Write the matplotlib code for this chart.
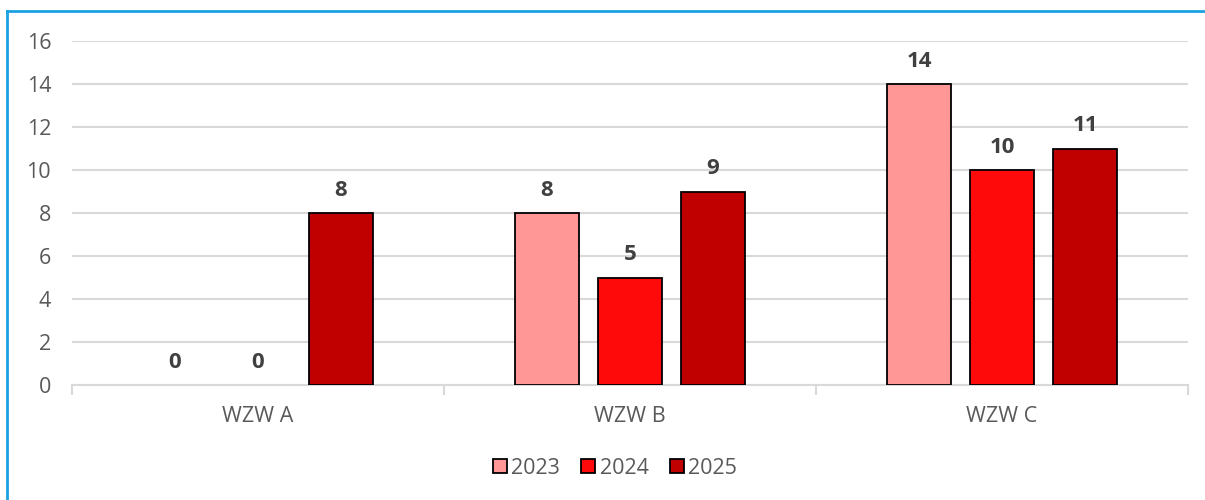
import matplotlib
matplotlib.use("Agg")
import matplotlib.pyplot as plt
from matplotlib.lines import Line2D
from matplotlib.patches import Patch
import numpy as np

plt.rcParams['font.family'] = ['Open Sans', 'DejaVu Sans']

categories = ["WZW A", "WZW B", "WZW C"]
series_names = ["2023", "2024", "2025"]
values_2023 = [0, 8, 14]
values_2024 = [0, 5, 10]
values_2025 = [8, 9, 11]
colors = ["#FF9797", "#FF0A0A", "#C00000"]
yticks = [0, 2, 4, 6, 8, 10, 12, 14, 16]

fig = plt.figure(figsize=(12.05, 5.0), dpi=100)
ax = fig.add_axes([72/1205, 1-385/500, (1188-72)/1205, (385-41)/500])

x = np.arange(len(categories))
offsets = [-0.223, 0.0, 0.223]
width = 0.172
for vals, off, col, name in zip([values_2023, values_2024, values_2025], offsets, colors, series_names):
    lws = [1.3 if v > 0 else 0 for v in vals]
    bars = ax.bar(x + off, vals, width=width, color=col, edgecolor="black", linewidth=lws, zorder=3, label=name)
    for b, v in zip(bars, vals):
        ax.annotate(str(v), (b.get_x() + b.get_width()/2, v), xytext=(0, 9), textcoords="offset points",
                    ha="center", va="bottom", fontsize=16, fontweight="bold", color="#404040")

ax.set_xlim(-0.5, 2.5)
ax.set_ylim(0, 16)
ax.set_yticks(yticks)
ax.set_yticklabels([str(t) for t in yticks])
ax.yaxis.grid(True, color="#D9D9D9", linewidth=1.5, zorder=0)
ax.set_axisbelow(True)
for s in ["top", "right", "left"]:
    ax.spines[s].set_visible(False)
ax.spines["bottom"].set_color("#D9D9D9")
ax.spines["bottom"].set_linewidth(1.5)
ax.tick_params(axis="y", length=0, labelsize=15.5, labelcolor="#595959", pad=15)
ax.set_xticks(x)
ax.set_xticklabels(categories)
ax.tick_params(axis="x", which="major", length=0, labelsize=15.5, labelcolor="#595959", pad=15)
ax.set_xticks([-0.5, 0.5, 1.5, 2.5], minor=True)
ax.tick_params(axis="x", which="minor", length=7, width=1.5, color="#D9D9D9")

handles = [Patch(facecolor=c, edgecolor="black", linewidth=1.3) for c in colors]
fig.legend(handles, series_names, loc="center", bbox_to_anchor=(615/1205, 1-468/500), ncol=3,
           frameon=False, fontsize=15.5, labelcolor="#595959", handlelength=0.65, handleheight=0.65,
           handletextpad=0.2, columnspacing=1.0)

# blue frame (left and top edges visible)
fig.add_artist(Line2D([6.5/1205, 6.5/1205], [0, 1-11/500], color="#1BA1E2", linewidth=2, transform=fig.transFigure))
fig.add_artist(Line2D([6.5/1205, 1], [1-11/500, 1-11/500], color="#1BA1E2", linewidth=2, transform=fig.transFigure))

fig.savefig("out.png", dpi=100)
